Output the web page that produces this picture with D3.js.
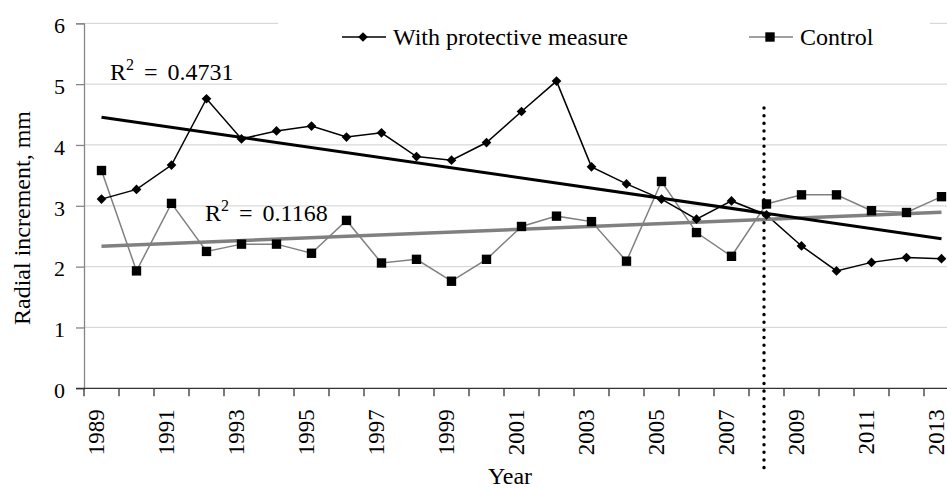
<!DOCTYPE html>
<html>
<head>
<meta charset="utf-8">
<script src="https://cdn.jsdelivr.net/npm/d3@7"></script>
<style>
  html, body { margin: 0; padding: 0; background: #fff; }
  svg { display: block; }
  svg text { font-family: "Liberation Serif", "Times New Roman", "DejaVu Serif", serif !important; fill: #000; }
</style>
</head>
<body>
<svg id="chart" width="947" height="489"></svg>
<script>
// Radial increment per year, mm
const years = d3.range(1989, 2014);
const protectiveValues = [3.11, 3.27, 3.67, 4.76, 4.10, 4.23, 4.31, 4.13, 4.20, 3.81, 3.75, 4.04, 4.55,
                          5.05, 3.64, 3.36, 3.11, 2.78, 3.08, 2.85, 2.34, 1.93, 2.07, 2.15, 2.13];
const controlValues    = [3.58, 1.93, 3.04, 2.25, 2.37, 2.37, 2.22, 2.76, 2.06, 2.12, 1.76, 2.12, 2.66,
                          2.83, 2.74, 2.09, 3.40, 2.56, 2.17, 3.03, 3.18, 3.18, 2.92, 2.89, 3.15];
const seriesNames = ["With protective measure", "Control"];
const r2Labels = ["0.4731", "0.1168"];
const yTicks = [0, 1, 2, 3, 4, 5, 6];
const xTickLabels = years.filter(y => (y - 1989) % 2 === 0);
const markerYear = 2008;

const FONT = "'Liberation Serif', 'Times New Roman', 'DejaVu Serif', serif";

const svg = d3.select("#chart").attr("font-family", FONT);

const x = d3.scaleBand().domain(years).range([84, 959]).padding(0);
const cx = d => x(d) + x.bandwidth() / 2;
const y = d3.scaleLinear().domain([0, 6]).range([388.3, 23.3]);

// Horizontal gridlines
svg.append("g").selectAll("line").data(yTicks.slice(1)).join("line")
  .attr("x1", 84).attr("x2", 959)
  .attr("y1", d => y(d)).attr("y2", d => y(d))
  .attr("stroke", "#d9d9d9").attr("stroke-width", 1.2);

// Y axis
const yAxis = svg.append("g").attr("transform", "translate(84,0)")
  .call(d3.axisLeft(y).tickValues(yTicks).tickSize(8).tickFormat(d3.format("d")))
  .attr("font-family", FONT).attr("font-size", 22);
yAxis.select(".domain").attr("stroke", "#868686").attr("stroke-width", 1.3);
yAxis.selectAll(".tick line").attr("stroke", "#868686").attr("stroke-width", 1.3);
yAxis.selectAll(".tick text")
  .attr("x", -19).attr("dy", "0.42em").attr("fill", "#000")
  .style("font-size", "22px").style("font-family", FONT);

// X axis: ticks on category boundaries, labels on every second year
const xAxisG = svg.append("g").attr("transform", `translate(0,${y(0)})`);
xAxisG.append("line").attr("x1", 76).attr("x2", 959).attr("y1", 0).attr("y2", 0)
  .attr("stroke", "#333").attr("stroke-width", 1.3);
xAxisG.selectAll("line.tk").data(years).join("line").attr("class", "tk")
  .attr("x1", d => x(d)).attr("x2", d => x(d))
  .attr("y1", 0).attr("y2", 8)
  .attr("stroke", "#333").attr("stroke-width", 1.3);
xAxisG.selectAll("text").data(xTickLabels).join("text")
  .attr("transform", d => `translate(${cx(d) + 2},21) rotate(-90)`)
  .attr("text-anchor", "end")
  .style("font-family", FONT)
  .style("font-size", "23px")
  .text(d => d);

// Axis titles
svg.append("text")
  .attr("transform", "translate(30,218) rotate(-90)")
  .attr("text-anchor", "middle")
  .style("font-family", FONT)
  .style("font-size", "24px")
  .text("Radial increment, mm");
svg.append("text")
  .attr("x", 510).attr("y", 484)
  .attr("text-anchor", "middle")
  .style("font-family", FONT)
  .style("font-size", "24px")
  .text("Year");

// Least-squares linear trend over the category index
function trend(values) {
  const n = values.length;
  const xs = d3.range(1, n + 1);
  const mx = d3.mean(xs), my = d3.mean(values);
  const sxy = d3.sum(xs, (t, i) => (t - mx) * (values[i] - my));
  const sxx = d3.sum(xs, t => (t - mx) * (t - mx));
  const b = sxy / sxx, a = my - b * mx;
  return [{ year: years[0], v: a + b * 1 }, { year: years[n - 1], v: a + b * n }];
}

const line = d3.line().x(d => cx(d.year)).y(d => y(d.v));
const protective = years.map((yr, i) => ({ year: yr, v: protectiveValues[i] }));
const control = years.map((yr, i) => ({ year: yr, v: controlValues[i] }));

// Series lines
svg.append("path").datum(control).attr("d", line)
  .attr("fill", "none").attr("stroke", "#808080").attr("stroke-width", 1.5);
svg.append("path").datum(protective).attr("d", line)
  .attr("fill", "none").attr("stroke", "#000").attr("stroke-width", 1.5);

// Trend lines
svg.append("path").datum(trend(controlValues)).attr("d", line)
  .attr("fill", "none").attr("stroke", "#808080").attr("stroke-width", 3.5);
svg.append("path").datum(trend(protectiveValues)).attr("d", line)
  .attr("fill", "none").attr("stroke", "#000").attr("stroke-width", 3);

// Markers
const diamond = d3.symbol().type(d3.symbolDiamond2).size(60);
const square = d3.symbol().type(d3.symbolSquare).size(88);
svg.append("g").selectAll("path").data(control).join("path")
  .attr("d", square)
  .attr("transform", d => `translate(${cx(d.year)},${y(d.v)})`)
  .attr("fill", "#000");
svg.append("g").selectAll("path").data(protective).join("path")
  .attr("d", diamond)
  .attr("transform", d => `translate(${cx(d.year)},${y(d.v)})`)
  .attr("fill", "#000");

// Dotted divider at the year the measure was introduced
svg.append("line")
  .attr("x1", cx(markerYear) - 2.5).attr("x2", cx(markerYear) - 2.5)
  .attr("y1", 108).attr("y2", 472)
  .attr("stroke", "#000").attr("stroke-width", 3.4)
  .attr("stroke-linecap", "round").attr("stroke-dasharray", "0.1 7.55");

// R² annotations
function r2Text(tx, ty, val) {
  const t = svg.append("text").attr("x", tx).attr("y", ty)
    .style("font-family", FONT).style("font-size", "24px")
    .style("word-spacing", "4px");
  t.append("tspan").text("R");
  t.append("tspan").attr("dy", -10).style("font-size", "16px").text("2");
  t.append("tspan").attr("dy", 10).text(" = " + val);
}
r2Text(110, 80, r2Labels[0]);
r2Text(205, 221, r2Labels[1]);

// Legend
const legend = svg.append("g");
legend.append("rect").attr("x", 278).attr("y", 8).attr("width", 652).attr("height", 44).attr("fill", "#fff");
const leg = [
  { name: seriesNames[0], x0: 342, color: "#000", sym: diamond, tx: 393 },
  { name: seriesNames[1], x0: 749, color: "#808080", sym: square, tx: 800 }
];
leg.forEach(l => {
  legend.append("line").attr("x1", l.x0).attr("x2", l.x0 + 44).attr("y1", 37).attr("y2", 37)
    .attr("stroke", l.color).attr("stroke-width", 1.5);
  legend.append("path").attr("d", l.sym).attr("transform", `translate(${l.x0 + 21},37)`).attr("fill", "#000");
  legend.append("text").attr("x", l.tx).attr("y", 45)
    .style("font-family", FONT).style("font-size", "24px")
    .text(l.name);
});
</script>
</body>
</html>
